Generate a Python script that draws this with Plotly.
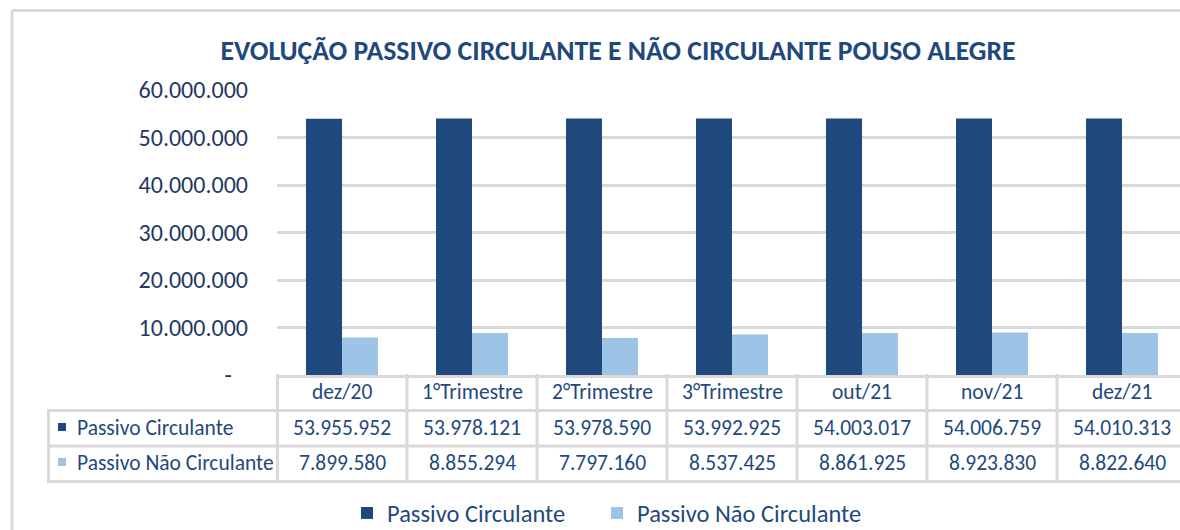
import plotly.graph_objects as go

categories = ["dez/20", "1°Trimestre", "2°Trimestre", "3°Trimestre", "out/21", "nov/21", "dez/21"]
series_names = ["Passivo Circulante", "Passivo Não Circulante"]
passivo_circulante = [53955952, 53978121, 53978590, 53992925, 54003017, 54006759, 54010313]
passivo_nao_circulante = [7899580, 8855294, 7797160, 8537425, 8861925, 8923830, 8822640]
y_tickvals = [0, 10000000, 20000000, 30000000, 40000000, 50000000, 60000000]
y_ticktext = ["-\u00a0\u00a0\u00a0", "10.000.000", "20.000.000", "30.000.000", "40.000.000", "50.000.000", "60.000.000"]
title_text = "EVOLUÇÃO PASSIVO CIRCULANTE E NÃO CIRCULANTE POUSO ALEGRE"

colors = ["#1F497D", "#9DC3E6"]
grid = "#D9D9D9"
text_col = "#1F497D"
FONT = "Carlito, Calibri, Lato, sans-serif"

W, H = 1180, 530
L, R, T, B = 277, 0, 90, 155
plot_w = W - L - R
plot_h = H - T - B
col_w = 130.0
x_min = -0.5
x_max = x_min + plot_w / col_w


def px_x(px):
    return (px - L) / plot_w


def px_y(py):
    return (H - B - py) / plot_h


fmt = lambda v: f"{v:,}".replace(",", ".")

fig = go.Figure()
series = [passivo_circulante, passivo_nao_circulante]
fig.add_trace(go.Bar(x=categories, y=passivo_circulante, name=series_names[0], showlegend=True,
                     marker=dict(color=colors[0], line=dict(width=0))))
fig.add_trace(go.Bar(x=categories, y=passivo_nao_circulante, name=series_names[1], showlegend=True, legend="legend2",
                     marker=dict(color=colors[1], line=dict(width=0))))

shapes = []
line = dict(color=grid, width=3)
# outer chart border
shapes.append(dict(type="line", xref="paper", yref="paper", x0=px_x(12), x1=px_x(1185), y0=px_y(10.5), y1=px_y(10.5), line=line))
shapes.append(dict(type="line", xref="paper", yref="paper", x0=px_x(12), x1=px_x(12), y0=px_y(10.5), y1=px_y(535), line=line))
# table horizontal lines
for py in [410.5, 446, 481.5]:
    shapes.append(dict(type="line", xref="paper", yref="paper", x0=px_x(47), x1=px_x(1185), y0=px_y(py), y1=px_y(py), line=line))
# table left border (row header column)
shapes.append(dict(type="line", xref="paper", yref="paper", x0=px_x(48.5), x1=px_x(48.5), y0=px_y(409), y1=px_y(483), line=line))
# vertical column lines
shapes.append(dict(type="line", xref="paper", yref="paper", x0=px_x(277.5), x1=px_x(277.5), y0=px_y(374), y1=px_y(483), line=line))
for i in range(len(categories)):
    xb = i + 0.5
    if xb < x_max:
        shapes.append(dict(type="line", xref="x", yref="paper", x0=xb, x1=xb, y0=px_y(374), y1=px_y(483), line=line))
# row legend squares
row_centers = [428, 463]
for c, yc in zip(colors, row_centers):
    shapes.append(dict(type="rect", xref="paper", yref="paper", x0=px_x(58), x1=px_x(66), y0=px_y(yc - 5), y1=px_y(yc + 3), fillcolor=c, line=dict(width=0)))

TS = 21.5
annotations = []
for i, cat in enumerate(categories):
    annotations.append(dict(x=i, y=px_y(392), xref="x", yref="paper", text=cat, showarrow=False,
                            font=dict(family=FONT, size=TS, color=text_col), xanchor="center", yanchor="middle"))
    for vals, yc in zip(series, row_centers):
        annotations.append(dict(x=i, y=px_y(yc), xref="x", yref="paper", text=fmt(vals[i]), showarrow=False,
                                font=dict(family=FONT, size=TS, color=text_col), xanchor="center", yanchor="middle"))
for name, yc in zip(series_names, row_centers):
    annotations.append(dict(x=px_x(75), y=px_y(yc), xref="paper", yref="paper", text=name, showarrow=False,
                            font=dict(family=FONT, size=TS, color=text_col), xanchor="left", yanchor="middle"))

legend_font = dict(family=FONT, size=24.5, color=text_col)

fig.update_layout(
    width=W, height=H,
    margin=dict(l=L, r=R, t=T, b=B, pad=0, autoexpand=False),
    paper_bgcolor="white", plot_bgcolor="white",
    title=dict(text="<b>" + title_text + "</b>", x=px_x(618), xanchor="center", y=1 - 50 / H, yanchor="middle",
               xref="paper", font=dict(family=FONT, size=27.7, color=text_col)),
    barmode="group", bargap=0.446, bargroupgap=0,
    xaxis=dict(range=[x_min, x_max], showticklabels=False, showgrid=False, showline=True, linecolor=grid, linewidth=3,
               ticks="", zeroline=False, fixedrange=True),
    yaxis=dict(range=[0, 60000000], tickvals=y_tickvals, ticktext=y_ticktext, showgrid=True, gridcolor=grid, gridwidth=3,
               zeroline=False, showline=False, ticks="", ticklabelstandoff=28, fixedrange=True,
               tickfont=dict(family=FONT, size=24, color="#1F3864")),
    showlegend=True,
    legend=dict(orientation="h", x=px_x(347), xanchor="left", y=px_y(513), yanchor="middle",
                font=legend_font, bgcolor="rgba(0,0,0,0)"),
    legend2=dict(orientation="h", x=px_x(597), xanchor="left", y=px_y(513), yanchor="middle",
                 font=legend_font, bgcolor="rgba(0,0,0,0)"),
    shapes=shapes, annotations=annotations,
)

fig.write_html("out.html", config=dict(displayModeBar=False),
               post_script="document.body.style.margin='0';document.body.style.overflow='hidden';")
